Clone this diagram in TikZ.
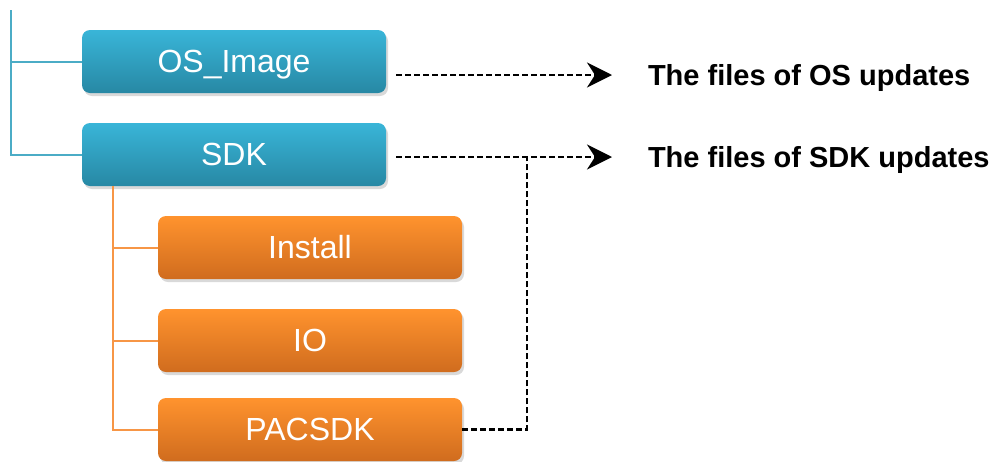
\documentclass[tikz,border=0pt]{standalone}
\usepackage{fontspec}
\setmainfont{Liberation Sans}
\usetikzlibrary{arrows.meta,shadows}

\definecolor{blueTop}{RGB}{57,181,216}
\definecolor{blueBot}{RGB}{39,136,164}
\definecolor{orangeTop}{RGB}{255,147,46}
\definecolor{orangeBot}{RGB}{208,108,30}
\definecolor{blueLine}{RGB}{75,172,198}
\definecolor{orangeLine}{RGB}{247,150,70}

\begin{document}
\begin{tikzpicture}[
    x=1pt, y=-1pt,
    folder/.style={rounded corners=8pt, minimum width=304pt, minimum height=63pt, inner sep=0pt,
        text=white, font=\fontsize{32}{36}\selectfont, text height=22.9pt, text depth=0pt,
        drop shadow={opacity=0.3, shadow xshift=2pt, shadow yshift=-3pt}},
    bluefolder/.style={folder, top color=blueTop, bottom color=blueBot},
    orangefolder/.style={folder, top color=orangeTop, bottom color=orangeBot},
    note/.style={anchor=west, inner sep=0pt, outer xsep=36pt, text height=20.8pt, text depth=0pt,
        font=\fontsize{29}{32}\selectfont\bfseries},
    bline/.style={blueLine, line width=2pt},
    oline/.style={orangeLine, line width=2pt},
    dline/.style={black, line width=2.4pt, dash pattern=on 6pt off 3pt},
    darr/.style={dline, -{Stealth[length=25pt, width=25pt, inset=8pt]}, shorten <=10pt}
]
    \useasboundingbox (0,0) rectangle (996,461);

    % --- Top level folders ---
    \node[bluefolder] (osimg) at (234,61.5) {OS\_Image};
    \node[bluefolder] (sdk) at (234,154.5) {SDK};
    \coordinate (treetop) at (11,10);
    \draw[bline] (treetop) |- (osimg.west);
    \draw[bline] (treetop) |- (sdk.west);

    % --- SDK sub folders ---
    \node[orangefolder] (install) at (310,247.5) {Install};
    \node[orangefolder] (io) at (310,340.5) {IO};
    \node[orangefolder] (pacsdk) at (310,429.5) {PACSDK};
    \coordinate (sdkfoot) at (112.5,186);
    \draw[oline] (sdkfoot) |- (install.west);
    \draw[oline] (sdkfoot) |- (io.west);
    \draw[oline] (sdkfoot) |- (pacsdk.west);

    % --- Notes ---
    \node[note] (osnote) at (612,75) {The files of OS updates};
    \node[note] (sdknote) at (612,157) {The files of SDK updates};
    \draw[darr] (osimg.east |- osnote.west) -- (osnote.west);
    \draw[darr] (sdk.east |- sdknote.west) -- (sdknote.west);
    \coordinate (join) at (527,157);
    \draw[dline] (pacsdk.east) -| (join);
\end{tikzpicture}
\end{document}
